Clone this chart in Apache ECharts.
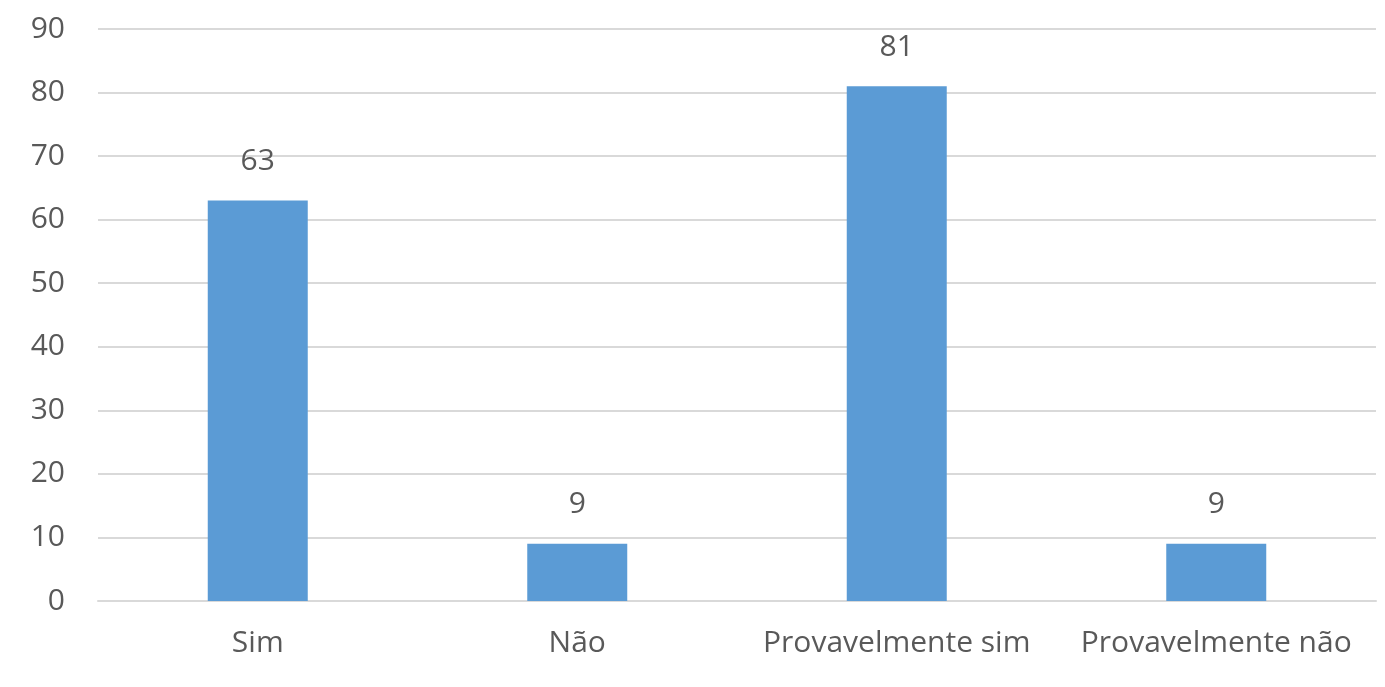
<!DOCTYPE html>
<html>
<head>
<meta charset="utf-8">
<script src="https://cdn.jsdelivr.net/npm/echarts@6/dist/echarts.min.js"></script>
<style>
  html, body { margin: 0; padding: 0; background: #fff; }
  #chart { width: 1385px; height: 687px; }
</style>
</head>
<body>
<div id="chart"></div>
<script>
const categories = ['Sim', 'Não', 'Provavelmente sim', 'Provavelmente não']
const values = [63, 9, 81, 9]
const yTicks = [0, 10, 20, 30, 40, 50, 60, 70, 80, 90]

const textColor = '#595959'
const fontFamily = '"Open Sans", "Noto Sans", sans-serif'

const mychart = echarts.init(document.getElementById('chart'))
mychart.setOption({
  animation: false,
  textStyle: { fontFamily },
  grid: {
    left: 98,
    right: 9,
    top: 29,
    bottom: 86,
    containLabel: false
  },
  xAxis: {
    type: 'category',
    data: categories,
    axisTick: { show: false },
    axisLine: { lineStyle: { color: '#d9d9d9', width: 2 } },
    axisLabel: { color: textColor, fontSize: 30, margin: 27, interval: 0, hideOverlap: false, fontFamily }
  },
  yAxis: {
    type: 'value',
    min: yTicks[0],
    max: yTicks[yTicks.length - 1],
    interval: 10,
    axisLine: { show: false },
    axisTick: { show: false },
    splitLine: { lineStyle: { color: '#d9d9d9', width: 2 } },
    axisLabel: { color: textColor, fontSize: 30, margin: 33, fontFamily }
  },
  series: [{
    type: 'bar',
    data: values,
    barWidth: 100,
    itemStyle: { color: '#5b9bd5' },
    label: {
      show: true,
      position: 'top',
      distance: 24,
      color: textColor,
      fontSize: 30,
      fontFamily
    }
  }]
})
</script>
</body>
</html>
